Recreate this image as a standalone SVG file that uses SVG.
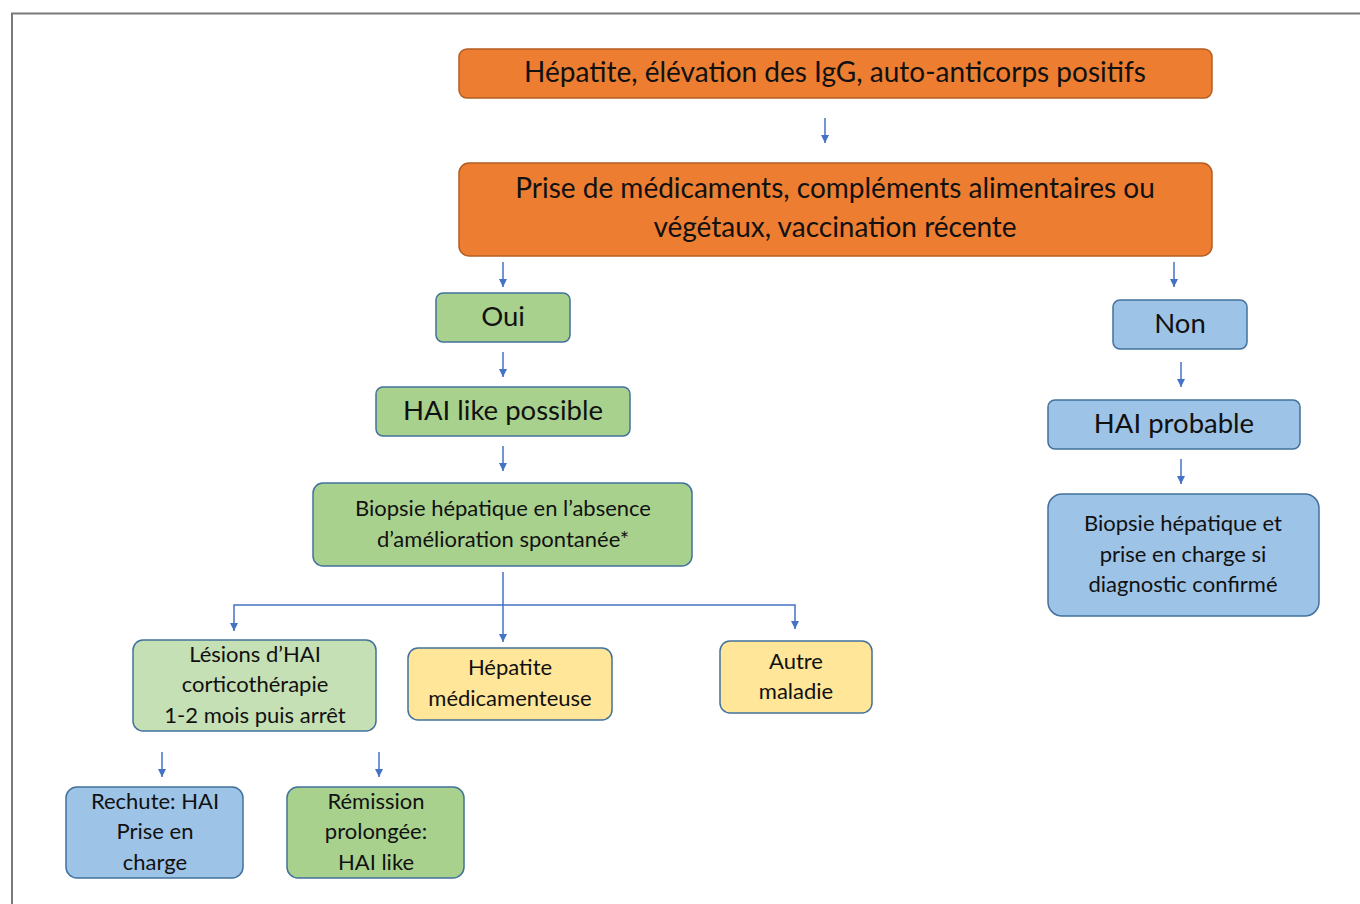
<svg xmlns="http://www.w3.org/2000/svg" width="1360" height="904" viewBox="0 0 1360 904">
<defs>
<marker id="ah" viewBox="0 0 10 10" refX="10" refY="5" markerWidth="8" markerHeight="8" markerUnits="userSpaceOnUse" orient="auto">
<path d="M0,0 L10,5 L0,10 z" fill="#4472c4"/>
</marker>
<style>
.t{font-family:Lato,"Open Sans","Liberation Sans",sans-serif;fill:#111111;text-anchor:middle;dominant-baseline:central}
.L{font-size:28px}
.M{font-size:27.5px}
.S{font-size:22px}
.or{fill:#ed7d31;stroke:#b45d22;stroke-width:1.5}
.gr{fill:#a9d18e;stroke:#41719c;stroke-width:1.5}
.lg{fill:#c5e0b4;stroke:#41719c;stroke-width:1.5}
.bl{fill:#9dc3e6;stroke:#41719c;stroke-width:1.5}
.ye{fill:#ffe699;stroke:#41719c;stroke-width:1.5}
.c{stroke:#4472c4;stroke-width:1.5;fill:none}
.a{marker-end:url(#ah)}
</style>
</defs>
<rect width="1360" height="904" fill="#ffffff"/>
<path d="M12,904 V13.5 H1360" fill="none" stroke="#7a7a7a" stroke-width="2"/>
<g id="connectors">
<line class="c a" x1="825" y1="118" x2="825" y2="143"/>
<line class="c a" x1="503" y1="262" x2="503" y2="287"/>
<line class="c a" x1="1174" y1="262" x2="1174" y2="287"/>
<line class="c a" x1="503" y1="352" x2="503" y2="377"/>
<line class="c a" x1="503" y1="446" x2="503" y2="471"/>
<line class="c a" x1="1181" y1="362" x2="1181" y2="387"/>
<line class="c a" x1="1181" y1="459" x2="1181" y2="484"/>
<line class="c a" x1="503" y1="572" x2="503" y2="642"/>
<path class="c a" d="M503,605 H234 V631"/>
<path class="c a" d="M503,605 H795 V629"/>
<line class="c a" x1="162" y1="752" x2="162" y2="777"/>
<line class="c a" x1="379" y1="752" x2="379" y2="777"/>
</g>
<g id="n1"><rect class="or" x="459" y="49" width="753" height="49" rx="8"/><text class="t L" x="835" y="71">Hépatite, élévation des IgG, auto-anticorps positifs</text></g>
<g id="n2"><rect class="or" x="459" y="163" width="753" height="93" rx="10"/><text class="t L" x="835" y="187">Prise de médicaments, compléments alimentaires ou</text><text class="t L" x="835" y="226">végétaux, vaccination récente</text></g>
<g id="n3"><rect class="gr" x="436" y="293" width="134" height="49" rx="7"/><text class="t M" x="503" y="315">Oui</text></g>
<g id="n4"><rect class="gr" x="376" y="387" width="254" height="49" rx="7"/><text class="t M" x="503" y="409">HAI like possible</text></g>
<g id="n5"><rect class="gr" x="313" y="483" width="379" height="83" rx="10"/><text class="t S" x="503" y="507">Biopsie hépatique en l’absence</text><text class="t S" x="503" y="538">d’amélioration spontanée*</text></g>
<g id="n6"><rect class="lg" x="133" y="640" width="243" height="91" rx="10"/><text class="t S" x="255" y="653">Lésions d’HAI</text><text class="t S" x="255" y="683">corticothérapie</text><text class="t S" x="255" y="714">1-2 mois puis arrêt</text></g>
<g id="n7"><rect class="ye" x="408" y="648" width="204" height="72" rx="10"/><text class="t S" x="510" y="666">Hépatite</text><text class="t S" x="510" y="697">médicamenteuse</text></g>
<g id="n8"><rect class="ye" x="720" y="641" width="152" height="72" rx="10"/><text class="t S" x="796" y="660">Autre</text><text class="t S" x="796" y="690">maladie</text></g>
<g id="n9"><rect class="bl" x="66" y="787" width="177" height="91" rx="11"/><text class="t S" x="155" y="800">Rechute: HAI</text><text class="t S" x="155" y="830">Prise en</text><text class="t S" x="155" y="861">charge</text></g>
<g id="n10"><rect class="gr" x="287" y="787" width="177" height="91" rx="11"/><text class="t S" x="376" y="800">Rémission</text><text class="t S" x="376" y="830">prolongée:</text><text class="t S" x="376" y="861">HAI like</text></g>
<g id="n11"><rect class="bl" x="1113" y="300" width="134" height="49" rx="7"/><text class="t M" x="1180" y="322">Non</text></g>
<g id="n12"><rect class="bl" x="1048" y="400" width="252" height="49" rx="7"/><text class="t M" x="1174" y="422">HAI probable</text></g>
<g id="n13"><rect class="bl" x="1048" y="494" width="271" height="122" rx="14"/><text class="t S" x="1183" y="522">Biopsie hépatique et</text><text class="t S" x="1183" y="553">prise en charge si</text><text class="t S" x="1183" y="583">diagnostic confirmé</text></g>
</svg>
